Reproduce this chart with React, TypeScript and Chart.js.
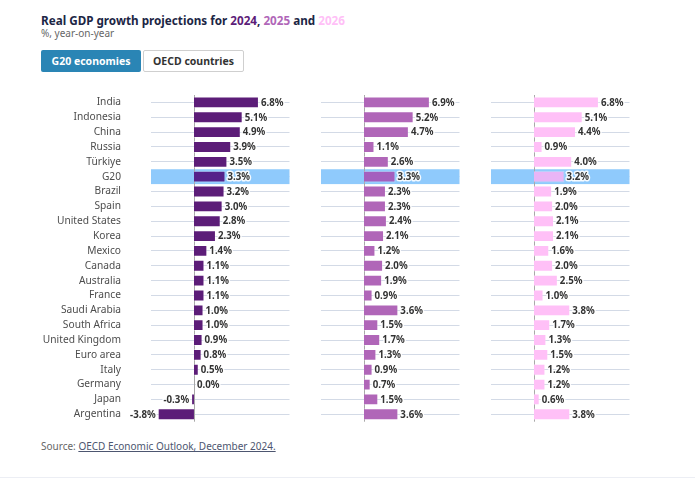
import React, { useEffect, useRef } from 'react';
import { Chart, registerables } from 'chart.js';

Chart.register(...registerables);
Chart.defaults.font.family = "'Noto Sans', sans-serif";

const categories = [
  'India', 'Indonesia', 'China', 'Russia', 'Türkiye', 'G20', 'Brazil', 'Spain',
  'United States', 'Korea', 'Mexico', 'Canada', 'Australia', 'France',
  'Saudi Arabia', 'South Africa', 'United Kingdom', 'Euro area', 'Italy',
  'Germany', 'Japan', 'Argentina',
];
const growth2024 = [6.8, 5.1, 4.9, 3.9, 3.5, 3.3, 3.2, 3.0, 2.8, 2.3, 1.4, 1.1, 1.1, 1.1, 1.0, 1.0, 0.9, 0.8, 0.5, 0.0, -0.3, -3.8];
const growth2025 = [6.9, 5.2, 4.7, 1.1, 2.6, 3.3, 2.3, 2.3, 2.4, 2.1, 1.2, 2.0, 1.9, 0.9, 3.6, 1.5, 1.7, 1.3, 0.9, 0.7, 1.5, 3.6];
const growth2026 = [6.8, 5.1, 4.4, 0.9, 4.0, 3.2, 1.9, 2.0, 2.1, 2.1, 1.6, 2.0, 2.5, 1.0, 3.8, 1.7, 1.3, 1.5, 1.2, 1.2, 0.6, 3.8];
const highlighted = 'G20';
const axisMin = -4.5;
const axisMax = 10;

const FONT = "'Noto Sans', sans-serif";

type PanelProps = {
  values: number[];
  color: string;
  hlColor: string;
  showLabels: boolean;
  left: number;
  width: number;
  areaLeft: number;
  areaRight: number;
};

const TOP = 85;
const HEIGHT = 345;

function Panel({ values, color, hlColor, showLabels, left, width, areaLeft, areaRight }: PanelProps) {
  const ref = useRef<HTMLCanvasElement | null>(null);
  useEffect(() => {
    if (!ref.current) return;
    const hlIndex = categories.indexOf(highlighted);
    const bandPlugin = {
      id: 'band',
      beforeDatasetsDraw(chart: any) {
        const { ctx, chartArea, scales } = chart;
        const y = scales.y;
        const x = scales.x;
        const h = chartArea.height / categories.length;
        const yc = y.getPixelForValue(hlIndex);
        ctx.save();
        ctx.fillStyle = '#8fcafc';
        ctx.fillRect(chartArea.left, yc - h / 2, chartArea.width, h);
        const x0 = Math.round(x.getPixelForValue(0)) + 0.5;
        ctx.strokeStyle = '#a8a8a8';
        ctx.lineWidth = 1;
        ctx.beginPath();
        ctx.moveTo(x0, chartArea.top);
        ctx.lineTo(x0, chartArea.bottom);
        ctx.stroke();
        ctx.restore();
      },
    };
    const labelPlugin = {
      id: 'vals',
      afterDatasetsDraw(chart: any) {
        const { ctx } = chart;
        const meta = chart.getDatasetMeta(0);
        const x0 = chart.scales.x.getPixelForValue(0);
        ctx.save();
        ctx.font = `bold 9.7px ${FONT}`;
        ctx.textBaseline = 'middle';
        ctx.lineJoin = 'round';
        meta.data.forEach((el: any, i: number) => {
          const v = values[i];
          const txt = `${v.toFixed(1)}%`;
          let tx: number;
          if (v < 0) {
            ctx.textAlign = 'right';
            tx = el.x - 2;
          } else {
            ctx.textAlign = 'left';
            tx = v === 0 ? x0 + 3 : el.x + 2;
          }
          ctx.strokeStyle = 'rgba(255,255,255,0.9)';
          ctx.lineWidth = 3;
          ctx.strokeText(txt, tx, el.y + 0.5);
          ctx.fillStyle = '#333333';
          ctx.fillText(txt, tx, el.y + 0.5);
        });
        ctx.restore();
      },
    };
    const chart = new Chart(ref.current, {
      type: 'bar',
      data: {
        labels: categories,
        datasets: [
          {
            data: values,
            backgroundColor: (c: any) => (c.dataIndex === hlIndex ? hlColor : color),
            borderColor: 'rgba(255,255,255,0.35)',
            borderWidth: 1,
            barPercentage: 0.8,
            categoryPercentage: 1,
          },
        ],
      },
      options: {
        indexAxis: 'y',
        animation: false,
        responsive: false,
        devicePixelRatio: 1,
        layout: { padding: { left: 0, right: left + width - areaRight, top: 10, bottom: 8.3 } },
        plugins: { legend: { display: false }, tooltip: { enabled: false } },
        scales: {
          x: { display: false, min: axisMin, max: axisMax },
          y: {
            grid: {
              offset: false,
              color: '#d3dae6',
              drawTicks: true,
              tickLength: 30,
              tickColor: 'rgba(0,0,0,0)',
              lineWidth: 1,
            },
            border: { display: false },
            ticks: {
              display: true,
              autoSkip: false,
              padding: 0,
              color: showLabels ? '#4d4d4d' : 'rgba(0,0,0,0)',
              font: { family: FONT, size: 10.2 },
            },
            afterFit: (s: any) => {
              s.width = areaLeft - left;
            },
          },
        },
      },
      plugins: [bandPlugin, labelPlugin],
    } as any);
    return () => chart.destroy();
  }, []);
  return (
    <canvas
      ref={ref}
      width={width}
      height={HEIGHT}
      style={{ position: 'absolute', left, top: TOP, width, height: HEIGHT }}
    />
  );
}

export default function App() {
  return (
    <div style={{ position: 'absolute', left: 0, top: 0, width: 695, height: 479, background: '#fff', fontFamily: FONT, overflow: 'hidden' }}>
      <div style={{ position: 'absolute', left: 41, top: 12, fontSize: 11.7, lineHeight: '16px', fontWeight: 700, color: '#1c2645', whiteSpace: 'nowrap' }}>
        Real GDP growth projections for <span style={{ color: '#5c1d78' }}>2024</span>,{' '}
        <span style={{ color: '#b066b8' }}>2025</span> and <span style={{ color: '#ffc0f7' }}>2026</span>
      </div>
      <div style={{ position: 'absolute', left: 41, top: 26, fontSize: 10, lineHeight: '14px', color: '#666', whiteSpace: 'nowrap' }}>
        %, year-on-year
      </div>
      <div style={{ position: 'absolute', left: 41, top: 50, width: 100, height: 22, background: '#2a85b5', color: '#fff', fontSize: 10.5, fontWeight: 700, lineHeight: '22px', textAlign: 'center', borderRadius: 2 }}>
        G20 economies
      </div>
      <div style={{ position: 'absolute', left: 143, top: 50, width: 99, height: 20, background: '#fff', border: '1px solid #cfcfcf', color: '#333', fontSize: 10.5, fontWeight: 700, lineHeight: '20px', textAlign: 'center', borderRadius: 2 }}>
        OECD countries
      </div>
      <Panel values={growth2024} color="#5c1d78" hlColor="#55228a" showLabels={true} left={0} width={300} areaLeft={151} areaRight={289.5} />
      <Panel values={growth2025} color="#b066b8" hlColor="#a45fbe" showLabels={false} left={300} width={170} areaLeft={321} areaRight={459.5} />
      <Panel values={growth2026} color="#ffc0f7" hlColor="#e9b5f6" showLabels={false} left={470} width={170} areaLeft={491} areaRight={629.5} />
      <div style={{ position: 'absolute', left: 41, top: 439, fontSize: 10, lineHeight: '14px', color: '#666', whiteSpace: 'nowrap' }}>
        Source: <span style={{ color: '#4d5670', textDecoration: 'underline' }}>OECD Economic Outlook, December 2024.</span>
      </div>
      <div style={{ position: 'absolute', left: 0, top: 477, width: 695, height: 1, background: '#eceef4' }} />
    </div>
  );
}
